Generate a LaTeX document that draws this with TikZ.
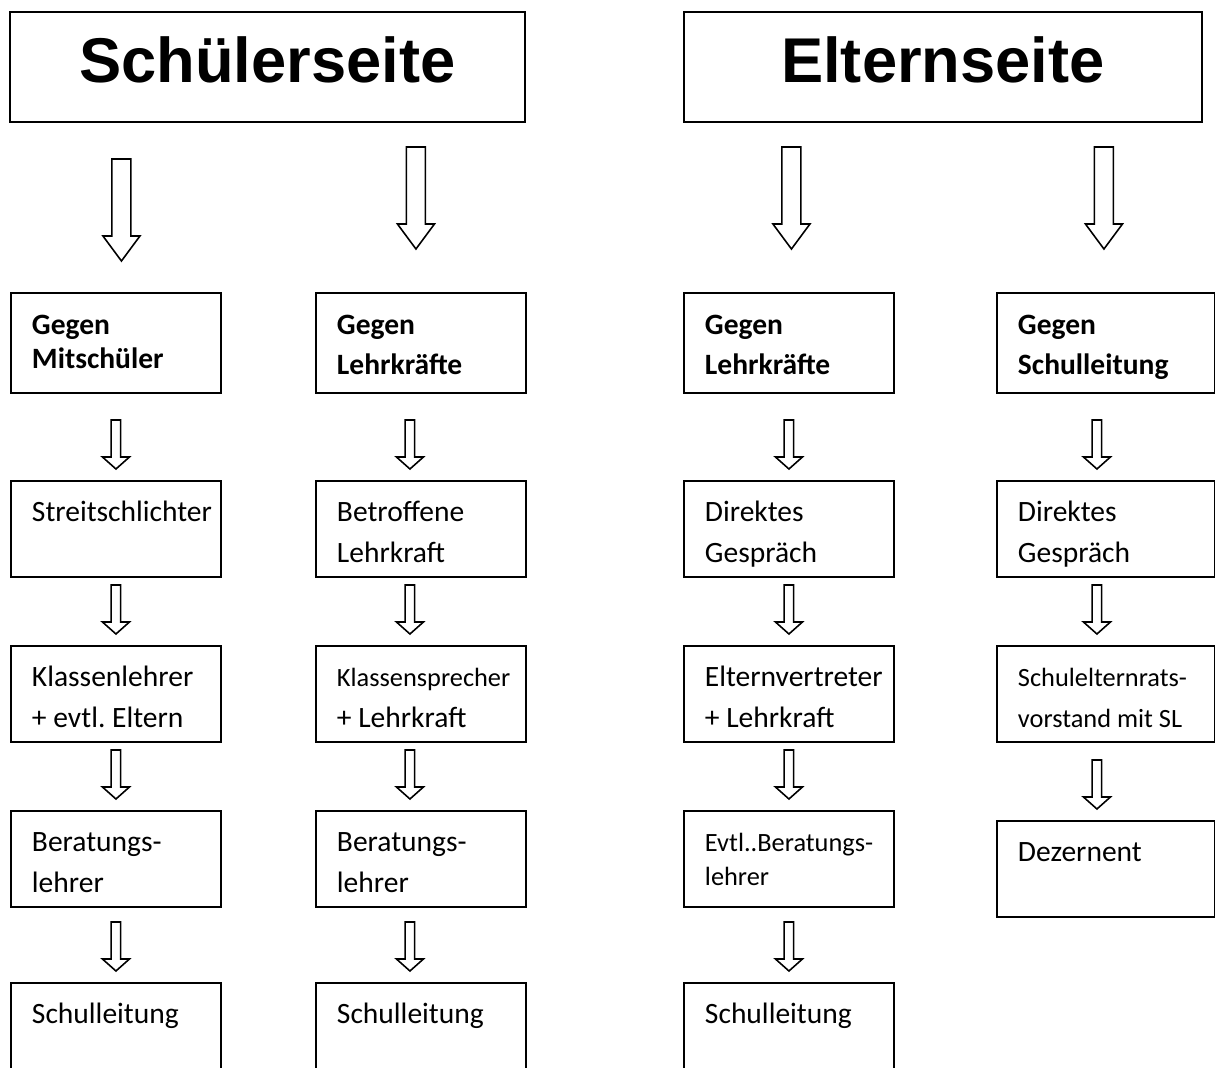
\documentclass[tikz,border=0pt]{standalone}
\usepackage{fontspec}
\setmainfont{Carlito}
\newfontfamily\headfont{Liberation Sans}
\usetikzlibrary{calc}
\frenchspacing
\hyphenpenalty=10000
\exhyphenpenalty=10000
\newcommand{\kleinschrift}{\fontsize{15}{23.3}\selectfont}
\tikzset{
  headbox/.style={draw, line width=1.1pt, anchor=north west, align=center,
    inner xsep=0pt, inner ysep=0pt, text width=10.3cm, text height=1.42cm, text depth=0.78cm,
    font=\headfont\fontsize{36}{40}\selectfont\bfseries},
  stage/.style={draw, line width=1.1pt, anchor=north west, align=flush left,
    inner xsep=0.42cm, inner ysep=0pt, text width=3.36cm, text height=0.82cm, text depth=1.1cm,
    font=\fontsize{16.8}{23.3}\selectfont},
  gegen/.style={stage, text height=0.84cm, text depth=1.16cm,
    font=\fontsize{16.8}{22.7}\selectfont\bfseries},
  arrshaft/.store in=\arrshaft, arrhead/.store in=\arrhead,
  arrtip/.store in=\arrtip, arrlen/.store in=\arrlen, arrgap/.store in=\arrgap,
  hollow/.style={draw, line width=0.9pt, line join=miter,
    to path={let \p1=(\tikztotarget) in
      (\x1-\arrshaft,\y1+\arrgap+\arrlen) -- (\x1-\arrshaft,\y1+\arrgap+\arrtip)
      -- (\x1-\arrhead,\y1+\arrgap+\arrtip) -- (\x1,\y1+\arrgap)
      -- (\x1+\arrhead,\y1+\arrgap+\arrtip) -- (\x1+\arrshaft,\y1+\arrgap+\arrtip)
      -- (\x1+\arrshaft,\y1+\arrgap+\arrlen) -- cycle}},
  bigarrow/.style={hollow, arrshaft=0.19cm, arrhead=0.37cm, arrtip=0.5cm,
    arrlen=2.04cm, arrgap=0.62cm},
  smallarrow/.style={hollow, arrshaft=0.095cm, arrhead=0.27cm, arrtip=0.24cm,
    arrlen=0.98cm, arrgap=0.22cm},
}

\begin{document}
\begin{tikzpicture}[x=0.02cm, y=-0.02cm]

    \useasboundingbox (0,0) rectangle (1215,1068);
    \clip (0,0) rectangle (1215,1068);

    % Kopf
    \node[headbox] (hl) at (9,11) {Schülerseite};
    \node[headbox, text width=10.36cm] (hr) at (683,11) {Elternseite};

    % Schüler gegen Mitschüler
    \node[gegen, font=\fontsize{16.8}{19.3}\selectfont\bfseries] (a1) at (10,292) {Gegen\\Mitschüler};
    \node[stage] (a2) at (10,480) {Streitschlichter};
    \node[stage] (a3) at (10,645) {Klassenlehrer\\+ evtl. Eltern};
    \node[stage] (a4) at (10,810) {Beratungs-\\lehrer};
    \node[stage, text depth=3cm] (a5) at (10,982) {Schulleitung};

    % Schüler gegen Lehrkräfte
    \node[gegen] (b1) at (315,292) {Gegen\\Lehrkräfte};
    \node[stage] (b2) at (315,480) {Betroffene\\Lehrkraft};
    \node[stage] (b3) at (315,645) {{\kleinschrift Klassensprecher}\\+ Lehrkraft};
    \node[stage] (b4) at (315,810) {Beratungs-\\lehrer};
    \node[stage, text depth=3cm] (b5) at (315,982) {Schulleitung};

    % Eltern gegen Lehrkräfte
    \node[gegen] (c1) at (683,292) {Gegen\\Lehrkräfte};
    \node[stage] (c2) at (683,480) {Direktes\\Gespräch};
    \node[stage] (c3) at (683,645) {Elternvertreter\\+ Lehrkraft};
    \node[stage, font=\fontsize{15}{19.3}\selectfont] (c4) at (683,810) {\mbox{Evtl..Beratungs-}\\lehrer};
    \node[stage, text depth=3cm] (c5) at (683,982) {Schulleitung};

    % Eltern gegen Schulleitung
    \node[gegen, text width=3.52cm] (d1) at (996,292) {Gegen\\Schulleitung};
    \node[stage, text width=3.52cm] (d2) at (996,480) {Direktes\\Gespräch};
    \node[stage, text width=3.52cm, font=\kleinschrift] (d3) at (996,645) {Schulelternrats-\\vorstand mit SL};
    \node[stage, text width=3.52cm] (d4) at (996,820) {Dezernent};

    % Pfeile
    \draw[bigarrow] (hl.south) to ([xshift=0.11cm]a1.north);
    \draw[bigarrow] (hl.south) to ([xshift=-0.1cm,yshift=0.24cm]b1.north);
    \draw[bigarrow] (hr.south) to ([xshift=0.05cm,yshift=0.24cm]c1.north);
    \draw[bigarrow] (hr.south) to ([xshift=-0.04cm,yshift=0.24cm]d1.north);

    \draw[smallarrow] (a1.south) to (a2.north);
    \draw[smallarrow] (a2.south) to (a3.north);
    \draw[smallarrow] (a3.south) to (a4.north);
    \draw[smallarrow] (a4.south) to (a5.north);

    \draw[smallarrow] (b1.south) to ([xshift=-0.22cm]b2.north);
    \draw[smallarrow] (b2.south) to ([xshift=-0.22cm]b3.north);
    \draw[smallarrow] (b3.south) to ([xshift=-0.22cm]b4.north);
    \draw[smallarrow] (b4.south) to ([xshift=-0.22cm]b5.north);

    \draw[smallarrow] (c1.south) to (c2.north);
    \draw[smallarrow] (c2.south) to (c3.north);
    \draw[smallarrow] (c3.south) to (c4.north);
    \draw[smallarrow] (c4.south) to (c5.north);

    \draw[smallarrow] (d1.south) to ([xshift=-0.18cm]d2.north);
    \draw[smallarrow] (d2.south) to ([xshift=-0.18cm]d3.north);
    \draw[smallarrow] (d3.south) to ([xshift=-0.18cm]d4.north);

\end{tikzpicture}
\end{document}
